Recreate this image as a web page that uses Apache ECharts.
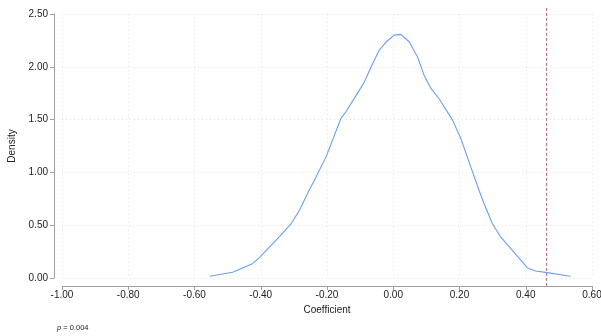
<!DOCTYPE html>
<html>
<head>
<meta charset="utf-8">
<script src="https://cdn.jsdelivr.net/npm/echarts@6/dist/echarts.min.js"></script>
<style>
  html, body { margin: 0; padding: 0; background: #fff; }
  #main { width: 601px; height: 336px; }
</style>
</head>
<body>
<div id="main"></div>
<script>
// kernel density of the coefficient
const coefValues = [-0.554, -0.485, -0.425, -0.404, -0.343, -0.308, -0.283, -0.253, -0.238, -0.203,
  -0.158, -0.143, -0.102, -0.087, -0.062, -0.042, -0.02, 0.003, 0.023, 0.048, 0.073, 0.093, 0.114,
  0.139, 0.179, 0.204, 0.234, 0.259, 0.274, 0.299, 0.324, 0.359, 0.405, 0.430, 0.465, 0.535];
const densityValues = [0.016, 0.054, 0.136, 0.193, 0.395, 0.516, 0.642, 0.838, 0.926, 1.147,
  1.511, 1.574, 1.779, 1.858, 2.032, 2.158, 2.24, 2.300, 2.307, 2.237, 2.095, 1.921, 1.795,
  1.695, 1.495, 1.321, 1.052, 0.831, 0.705, 0.516, 0.389, 0.263, 0.095, 0.066, 0.051, 0.016];
// observed coefficient (dashed line) and its vertical extent
const observedCoef = 0.463;
const observedSpan = [-0.075, 2.575];
const pValueText = 'p = 0.004';

const xTicks = { min: -1, max: 0.6, interval: 0.2 };
const yTicks = { min: 0, max: 2.5, interval: 0.5 };

const chart = echarts.init(document.getElementById('main'));
const font = 'Liberation Sans, Arial, Helvetica, sans-serif';

chart.setOption({
  animation: false,
  backgroundColor: '#fff',
  textStyle: { fontFamily: font },
  grid: { left: 62, right: 9, top: 14, bottom: 58, containLabel: false, outerBoundsMode: 'none' },
  xAxis: {
    type: 'value',
    min: xTicks.min, max: xTicks.max, interval: xTicks.interval,
    offset: 8,
    name: 'Coefficient',
    nameLocation: 'middle',
    nameGap: 16,
    nameTextStyle: { color: '#222', fontSize: 10, fontFamily: font },
    axisLine: { show: true, onZero: false, lineStyle: { color: '#a0a0a0', width: 1 } },
    axisTick: { show: true, length: 4, lineStyle: { color: '#a0a0a0' } },
    axisLabel: { color: '#222', fontSize: 10, fontFamily: font, margin: 4,
      formatter: v => v.toFixed(2) },
    splitLine: { show: true, lineStyle: { color: '#e6e6e6', type: [1, 3] } }
  },
  yAxis: {
    type: 'value',
    min: yTicks.min, max: yTicks.max, interval: yTicks.interval,
    offset: 8,
    name: 'Density',
    nameLocation: 'middle',
    nameGap: 36,
    nameRotate: 90,
    nameTextStyle: { color: '#222', fontSize: 10, fontFamily: font },
    axisLine: { show: true, onZero: false, lineStyle: { color: '#a0a0a0', width: 1 } },
    axisTick: { show: true, length: 4, lineStyle: { color: '#a0a0a0' } },
    axisLabel: { color: '#222', fontSize: 10, fontFamily: font, margin: 6,
      formatter: v => v.toFixed(2) },
    splitLine: { show: true, lineStyle: { color: '#e6e6e6', type: [1, 3] } }
  },
  graphic: [{
    type: 'text',
    left: 57, top: 324,
    style: {
      rich: { i: { fontStyle: 'italic', fontSize: 7.5, fill: '#222' }, n: { fontSize: 7.5, fill: '#222' } },
      text: '{i|p}{n|' + pValueText.slice(1) + '}',
      font: '7.5px ' + font
    }
  }],
  series: [
    {
      type: 'line',
      data: coefValues.map((c, i) => [c, densityValues[i]]),
      showSymbol: false,
      lineStyle: { color: '#6b9ff0', width: 1.1 },
      z: 3
    },
    {
      type: 'line',
      data: observedSpan.map(d => [observedCoef, d]),
      showSymbol: false,
      clip: false,
      lineStyle: { color: '#b5607f', width: 1, type: [3, 2] },
      z: 2
    }
  ]
});
</script>
</body>
</html>
